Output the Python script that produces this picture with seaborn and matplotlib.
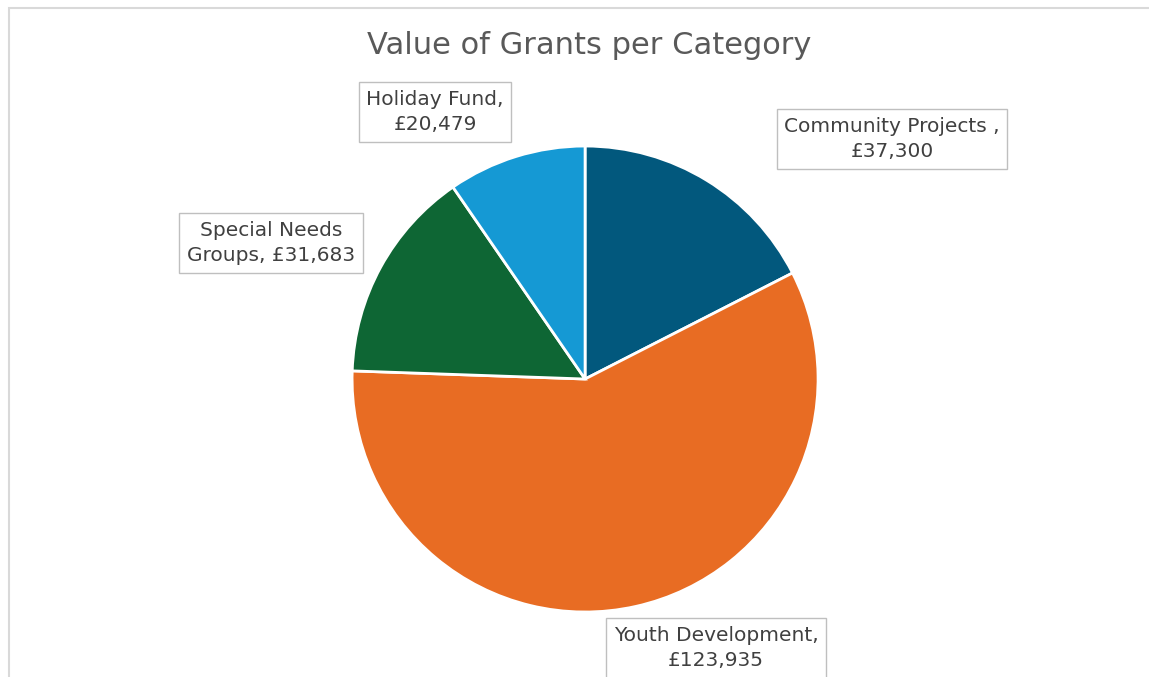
import matplotlib
matplotlib.use('Agg')
import matplotlib.pyplot as plt
import matplotlib.patches as patches
import seaborn as sns

# Grant totals per category (clockwise from 12 o'clock)
categories = ['Community Projects', 'Youth Development', 'Special Needs Groups', 'Holiday Fund']
values = [37300, 123935, 31683, 20479]
colors = ['#02587D', '#E86C23', '#0E6634', '#1599D4']
label_texts = ['Community Projects ,\n£{:,}'.format(values[0]),
               'Youth Development,\n£{:,}'.format(values[1]),
               'Special Needs\nGroups, £{:,}'.format(values[2]),
               'Holiday Fund,\n£{:,}'.format(values[3])]

# label box centres (figure fraction)
label_pos = [(0.7763, 0.7947), (0.6232, 0.0428), (0.2359, 0.6411), (0.3786, 0.8346)]

sns.set_theme(style='white')
plt.rcParams['font.family'] = ['DejaVu Sans']

fig = plt.figure(figsize=(11.49, 6.77), dpi=100)
ax = fig.add_axes([0.3064, 0.0960, 0.4056, 0.6883])
ax.pie(values, colors=colors, startangle=90, counterclock=False, radius=1,
       wedgeprops=dict(edgecolor='white', linewidth=2))
ax.set_xlim(-1, 1)
ax.set_ylim(-1, 1)
ax.set_aspect('equal')
ax.axis('off')

for txt, (x, y) in zip(label_texts, label_pos):
    fig.text(x, y, txt, ha='center', va='center', fontsize=14.5, color='#404040',
             linespacing=1.4,
             bbox=dict(boxstyle='square,pad=0.38', facecolor='white', edgecolor='#bfbfbf', linewidth=1))

fig.text(0.5126, 0.933, 'Value of Grants per Category', ha='center', va='center',
         fontsize=22, color='#595959')

# chart area border
fig.patches.append(patches.Rectangle((9 / 1149, -0.05), 1.2, 1.05 - 8 / 677,
                                     transform=fig.transFigure, fill=False,
                                     edgecolor='#d9d9d9', linewidth=1.5))

fig.savefig('out.png', dpi=100)
plt.close()
